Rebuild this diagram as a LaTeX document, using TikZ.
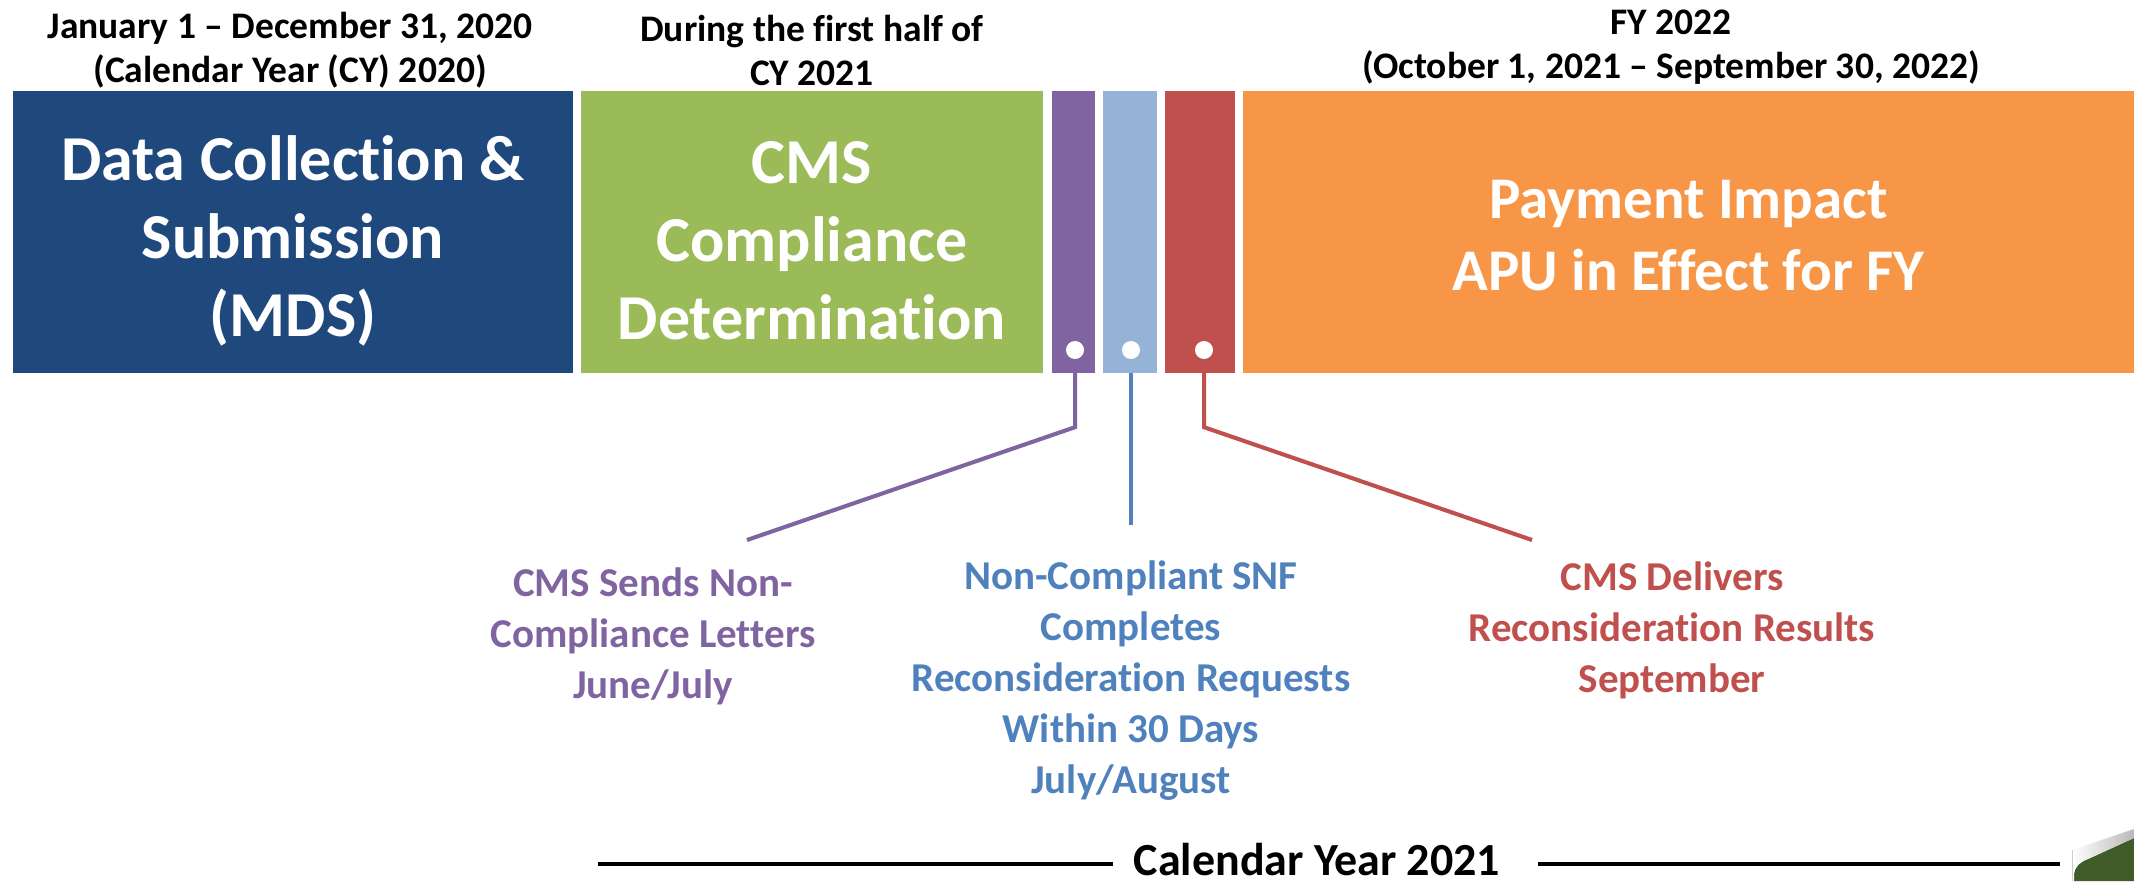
\documentclass[tikz,border=0pt]{standalone}
\usepackage{fontspec}
\setmainfont{Carlito}[Ligatures=NoCommon]
\definecolor{mdsblue}{HTML}{1F497D}
\definecolor{cmsgreen}{HTML}{9BBB59}
\definecolor{letterpurple}{HTML}{8064A2}
\definecolor{requestblue}{HTML}{95B3D7}
\definecolor{requestline}{HTML}{4F81BD}
\definecolor{resultred}{HTML}{C0504D}
\definecolor{payorange}{HTML}{F79646}
\definecolor{curlgreen}{HTML}{405A28}
\begin{document}
\begin{tikzpicture}[x=1pt,y=-1pt,
  phase/.style={rectangle, inner sep=0pt, minimum height=282pt, text=white,
    align=center, font=\fontsize{64}{78}\selectfont\bfseries},
  header/.style={align=center, text=black, font=\fontsize{37.5}{44}\selectfont\bfseries},
  note/.style={align=center, font=\fontsize{41}{51}\selectfont\bfseries},
  marker/.style={circle, fill=white, inner sep=0pt, minimum size=18pt},
  link/.style={line width=4pt},
  linkshadow/.style={line width=4pt, draw=black, opacity=0.12},
  rule/.style={line width=4pt, draw=black}]
\useasboundingbox (0,0) rectangle (2134,881);

% phase blocks along the timeline
\node[phase, fill=mdsblue, minimum width=560pt] (mdsbox) at (293,232) {};
\node[phase, fill=cmsgreen, minimum width=462pt] (cmsbox) at (812,232) {};
\node[phase, fill=letterpurple, minimum width=43pt] (pbox) at (1073.5,232) {};
\node[phase, fill=requestblue, minimum width=54pt] (lbox) at (1130,232) {};
\node[phase, fill=resultred, minimum width=70pt] (rbox) at (1200,232) {};
\node[phase, fill=payorange, minimum width=891pt] (paybox) at (1688.5,232) {};

% block titles
\node[phase, minimum height=0pt] (mds) at (293,241)
  {Data Collection \&\\Submission\\(MDS)};
\node[phase, minimum height=0pt] (cms) at (812,241)
  {CMS\\Compliance\\Determination};
\node[phase, minimum height=0pt, font=\fontsize{59}{72}\selectfont\bfseries] (pay)
  at (1688.5,236) {Payment Impact\\APU in Effect for FY};

% period headings
\node[header] (h1) at (290,50) {January 1 -- December 31, 2020\\(Calendar Year (CY) 2020)};
\node[header] (h2) at (812,50) {During the first half of\\CY 2021};
\node[header] (h3) at (1671,47) {FY 2022\\(October 1, 2021 -- September 30, 2022)};

% milestone markers
\node[marker] (pdot) at (1075,350) {};
\node[marker] (ldot) at (1131,350) {};
\node[marker] (rdot) at (1204,350) {};

% milestone descriptions
\node[note, text=letterpurple] (pnote) at (653,636)
  {CMS Sends Non-\\Compliance Letters\\June/July};
\node[note, text=requestline] (lnote) at (1131,681)
  {Non-Compliant SNF\\Completes\\Reconsideration Requests\\Within 30 Days\\July/August};
\node[note, text=resultred] (rnote) at (1672,630)
  {CMS Delivers\\Reconsideration Results\\September};

% connector ends
\coordinate (pend) at (747,540);
\coordinate (lend) at (1131,525);
\coordinate (rend) at (1532,540);

% connectors with a soft shadow
\begin{scope}[shift={(2,3)}]
  \draw[linkshadow] (pbox.south -| pdot) -- ++(0,54) -- (pend);
  \draw[linkshadow] (lbox.south -| ldot) -- (lend);
  \draw[linkshadow] (rbox.south -| rdot) -- ++(0,54) -- (rend);
\end{scope}
\draw[link, letterpurple] (pbox.south -| pdot) -- ++(0,54) -- (pend);
\draw[link, requestline] (lbox.south -| ldot) -- (lend);
\draw[link, resultred] (rbox.south -| rdot) -- ++(0,54) -- (rend);

% calendar year rule
\node[text=black, font=\fontsize{46}{52}\selectfont\bfseries, anchor=base,
  inner sep=0pt, text depth=0pt] (cy) at (1317,875) {Calendar Year 2021};
\coordinate (ruleL) at (598,864);
\coordinate (ruleLend) at (1113,864);
\coordinate (ruleRstart) at (1538,864);
\coordinate (ruleR) at (2060,864);
\draw[rule] (ruleL) -- (ruleLend);
\draw[rule] (ruleRstart) -- (ruleR);

% turned page corner
\fill[curlgreen] (2074,881) -- (2074,874) .. controls (2075,866) and (2080,862) .. (2088,859)
  -- (2134,838) -- (2134,881) -- cycle;
\shade[left color=white, right color=gray!55] (2072,850) -- (2134,829) -- (2134,838)
  -- (2088,859) .. controls (2080,862) and (2075,866) .. (2074,874) -- (2074,881)
  -- (2072,881) -- cycle;
\draw[gray!40, line width=0.8pt] (2072,850) -- (2072,881);
\end{tikzpicture}
\end{document}
